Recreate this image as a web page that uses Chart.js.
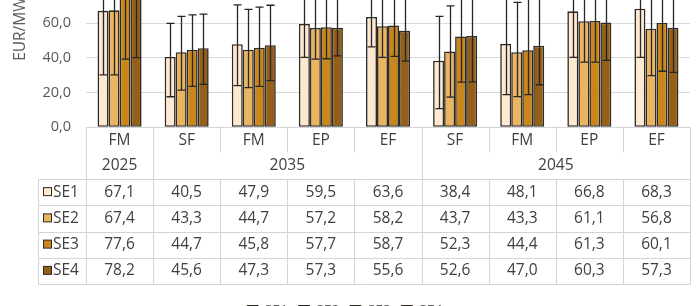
<!DOCTYPE html>
<html>
<head>
<meta charset="utf-8">
<script src="https://cdn.jsdelivr.net/npm/chart.js@4/dist/chart.umd.min.js"></script>
<style>
  html, body { margin: 0; padding: 0; background: #fff; overflow: hidden; }
  #wrap { position: absolute; left: 0; top: -70px; width: 700px; height: 420px; }
</style>
</head>
<body>
<div id="wrap"><canvas id="c" width="700" height="420"></canvas></div>
<script>
// categories + year groups (multi level axis of the original)
const categories = ['FM', 'SF', 'FM', 'EP', 'EF', 'SF', 'FM', 'EP', 'EF'];
const years = ['2025', '2035', '2045'];
const yearSpans = [1, 4, 4];
const seriesNames = ['SE1', 'SE2', 'SE3', 'SE4'];

// bar values (EUR/MWh)
const se1 = [67.1, 40.5, 47.9, 59.5, 63.6, 38.4, 48.1, 66.8, 68.3];
const se2 = [67.4, 43.3, 44.7, 57.2, 58.2, 43.7, 43.3, 61.1, 56.8];
const se3 = [77.6, 44.7, 45.8, 57.7, 58.7, 52.3, 44.4, 61.3, 60.1];
const se4 = [78.2, 45.6, 47.3, 57.3, 55.6, 52.6, 47.0, 60.3, 57.3];

// error bar ends (tops above the crop are estimates)
const se1Low = [30.2, 17.6, 24.0, 40.3, 46.3, 10.8, 18.8, 40.3, 40.3];
const se2Low = [30.2, 21.4, 22.9, 39.3, 40.3, 17.4, 17.7, 37.5, 29.8];
const se3Low = [39.3, 23.6, 23.6, 39.5, 40.8, 26.0, 18.8, 37.5, 32.3];
const se4Low = [40.1, 24.7, 26.9, 41.2, 38.1, 26.2, 24.5, 38.5, 31.6];
const se1High = [98, 59.9, 70.5, 80, 82, 63.9, 75, 90, 92];
const se2High = [99, 63.9, 67.9, 77, 78, 70.0, 72, 84, 80];
const se3High = [108, 64.8, 69.2, 78, 79, 75, 74, 85, 84];
const se4High = [110, 65.2, 70.3, 77, 75, 76, 76, 83, 80];

const yTicks = [0, 20, 40, 60, 80, 100];

const colors = ['#fde8d0', '#ebb45f', '#c9861b', '#965f17'];
const edge = '#2e2a26';
const gridCol = '#d9d9d9';
const textCol = '#404040';

Chart.defaults.font.family = "'Open Sans', sans-serif";

const values = [se1, se2, se3, se4];
const lows = [se1Low, se2Low, se3Low, se4Low];
const highs = [se1High, se2High, se3High, se4High];

const fmt = v => v.toFixed(1).replace('.', ',');

const errorBars = {
  id: 'errorBars',
  afterDatasetsDraw(chart) {
    const ctx = chart.ctx;
    const y = chart.scales.y;
    ctx.save();
    ctx.strokeStyle = '#262626';
    ctx.lineWidth = 1.3;
    chart.data.datasets.forEach((ds, di) => {
      const meta = chart.getDatasetMeta(di);
      meta.data.forEach((bar, i) => {
        const x = Math.round(bar.x) + 0.5;
        const yl = y.getPixelForValue(lows[di][i]);
        const yh = y.getPixelForValue(highs[di][i]);
        ctx.beginPath();
        ctx.moveTo(x, yl); ctx.lineTo(x, yh);
        ctx.moveTo(x - 4, yl); ctx.lineTo(x + 4, yl);
        ctx.moveTo(x - 4, yh); ctx.lineTo(x + 4, yh);
        ctx.stroke();
      });
    });
    ctx.restore();
  }
};

// data table under the plot, columns follow the x scale
const dataTable = {
  id: 'dataTable',
  afterDraw(chart) {
    const ctx = chart.ctx;
    const xs = chart.scales.x;
    const area = chart.chartArea;
    const n = categories.length;
    const w = (area.right - area.left) / n;
    const b = area.bottom;
    const rowH = 26.25;
    const catBottom = b + 25;
    const seTop = b + 51.7;
    const bottom = seTop + rowH * seriesNames.length;
    const keyLeft = 38;
    const colEdge = i => area.left + w * i;

    ctx.save();
    ctx.strokeStyle = '#d4d4d4';
    ctx.lineWidth = 1;
    const line = (x1, y1, x2, y2) => {
      ctx.beginPath();
      ctx.moveTo(Math.round(x1) + 0.5, Math.round(y1) + 0.5);
      ctx.lineTo(Math.round(x2) + 0.5, Math.round(y2) + 0.5);
      ctx.stroke();
    };

    // horizontal rules
    line(area.left, b, area.right, b);
    for (let r = 0; r <= seriesNames.length; r++) {
      line(keyLeft, seTop + r * rowH, area.right, seTop + r * rowH);
    }
    line(keyLeft, seTop, keyLeft, bottom);

    // vertical rules: full height at year boundaries
    const yearEdges = [0];
    yearSpans.forEach(s => yearEdges.push(yearEdges[yearEdges.length - 1] + s));
    for (let i = 0; i <= n; i++) {
      const x = colEdge(i);
      if (yearEdges.includes(i)) {
        line(x, b, x, bottom);
      } else {
        line(x, b, x, catBottom);
        line(x, seTop, x, bottom);
      }
    }

    ctx.fillStyle = textCol;
    ctx.font = "15.5px 'Open Sans', sans-serif";
    ctx.textAlign = 'center';
    ctx.textBaseline = 'middle';
    categories.forEach((c, i) => ctx.fillText(c, xs.getPixelForValue(i), b + 13.4));
    years.forEach((yr, k) => {
      const x = (colEdge(yearEdges[k]) + colEdge(yearEdges[k + 1])) / 2;
      ctx.fillText(yr, x, b + 38.4);
    });

    values.forEach((vals, r) => {
      const cy = seTop + r * rowH + rowH / 2;
      vals.forEach((v, i) => ctx.fillText(fmt(v), xs.getPixelForValue(i), cy));
      ctx.fillStyle = colors[r];
      ctx.fillRect(43.5, cy - 4.5, 8, 8);
      ctx.strokeStyle = edge;
      ctx.strokeRect(43.5, cy - 4.5, 8, 8);
      ctx.fillStyle = textCol;
      ctx.textAlign = 'left';
      ctx.fillText(seriesNames[r], 53, cy);
      ctx.textAlign = 'center';
    });
    ctx.restore();
  }
};

new Chart(document.getElementById('c'), {
  type: 'bar',
  data: {
    labels: categories,
    datasets: seriesNames.map((name, i) => ({
      label: name,
      data: values[i],
      backgroundColor: colors[i],
      borderColor: edge,
      borderWidth: 1.6,
      borderSkipped: false,
      categoryPercentage: 0.656,
      barPercentage: 1
    }))
  },
  options: {
    responsive: false,
    maintainAspectRatio: false,
    animation: false,
    layout: { padding: { left: 0, right: 10, top: 16.3, bottom: 22.3 } },
    plugins: {
      tooltip: { enabled: false },
      legend: {
        position: 'bottom',
        labels: { boxWidth: 10, boxHeight: 10, padding: 11, color: '#595959', font: { size: 14 } }
      }
    },
    scales: {
      x: {
        grid: { display: false },
        border: { display: false },
        ticks: { display: false },
        afterFit: s => { s.height = 165.4; }
      },
      y: {
        min: 0,
        max: 100,
        afterBuildTicks: s => { s.ticks = yTicks.map(v => ({ value: v })); },
        grid: { color: gridCol, lineWidth: 1, drawTicks: false },
        border: { display: false },
        ticks: { padding: 15, color: '#595959', font: { size: 14.5 }, callback: v => fmt(v) },
        title: {
          display: true,
          text: '        EUR/MWh',
          color: '#595959',
          font: { size: 15.5 },
          padding: { top: 11, bottom: 0 }
        },
        afterFit: s => { s.width = 86; }
      }
    }
  },
  plugins: [errorBars, dataTable]
});
</script>
</body>
</html>
